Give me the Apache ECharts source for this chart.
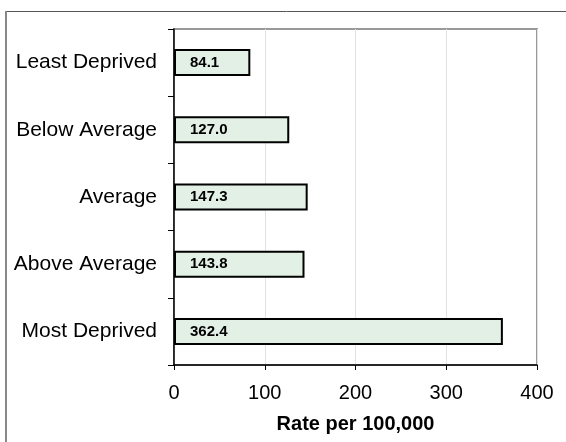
<!DOCTYPE html>
<html>
<head>
<meta charset="utf-8">
<script src="https://cdn.jsdelivr.net/npm/echarts@6/dist/echarts.min.js"></script>
<style>
  html, body { margin: 0; padding: 0; background: #fff; }
  #chart { width: 566px; height: 442px; }
</style>
</head>
<body>
<div id="chart"></div>
<script>
// Deprivation quintiles and their rates per 100,000
var categories = ['Least Deprived', 'Below Average', 'Average', 'Above Average', 'Most Deprived'];
var rates = [84.1, 127.0, 147.3, 143.8, 362.4];
var xTicks = [0, 100, 200, 300, 400];

var chart = echarts.init(document.getElementById('chart'), null, { renderer: 'canvas' });

chart.setOption({
  backgroundColor: '#ffffff',
  animation: false,
  textStyle: { fontFamily: 'Liberation Sans, Arial, sans-serif' },
  graphic: [
    {
      type: 'rect',
      z: -1,
      shape: { x: 6, y: 11.5, width: 600, height: 480 },
      style: { fill: 'none', stroke: '#555555', lineWidth: 1 }
    },
    {
      type: 'line',
      z: -1,
      shape: { x1: 6, y1: 11, x2: 6, y2: 442 },
      style: { stroke: '#888888', lineWidth: 2 }
    }
  ],
  grid: {
    left: 174,
    right: 29,
    top: 29,
    bottom: 77,
    show: true,
    borderColor: '#999999',
    borderWidth: 2,
    backgroundColor: 'transparent'
  },
  xAxis: {
    type: 'value',
    min: xTicks[0],
    max: xTicks[xTicks.length - 1],
    interval: xTicks[1] - xTicks[0],
    name: 'Rate per 100,000',
    nameLocation: 'middle',
    nameGap: 49,
    nameTextStyle: { fontSize: 20, fontWeight: 'bold', color: '#000' },
    axisLine: { show: true, lineStyle: { color: '#000', width: 1.5 } },
    axisTick: { show: true, length: 5, lineStyle: { color: '#000' } },
    axisLabel: { fontSize: 20, color: '#000', margin: 18 },
    splitLine: { show: true, lineStyle: { color: '#e2e2e2', width: 1 } }
  },
  yAxis: {
    type: 'category',
    data: categories,
    inverse: true,
    axisLine: { show: true, lineStyle: { color: '#000', width: 1.5 } },
    axisTick: { show: true, length: 6, alignWithLabel: false, lineStyle: { color: '#000' } },
    axisLabel: { fontSize: 21, color: '#000', margin: 17 },
    splitLine: { show: false }
  },
  series: [{
    type: 'bar',
    data: rates,
    barWidth: 27,
    itemStyle: { color: '#e3f0e6', borderColor: '#000', borderWidth: 2 },
    label: {
      show: true,
      position: 'insideLeft',
      distance: 16,
      fontSize: 15,
      fontWeight: 'bold',
      color: '#000',
      formatter: function (p) { return p.value.toFixed(1); }
    }
  }]
});
</script>
</body>
</html>
